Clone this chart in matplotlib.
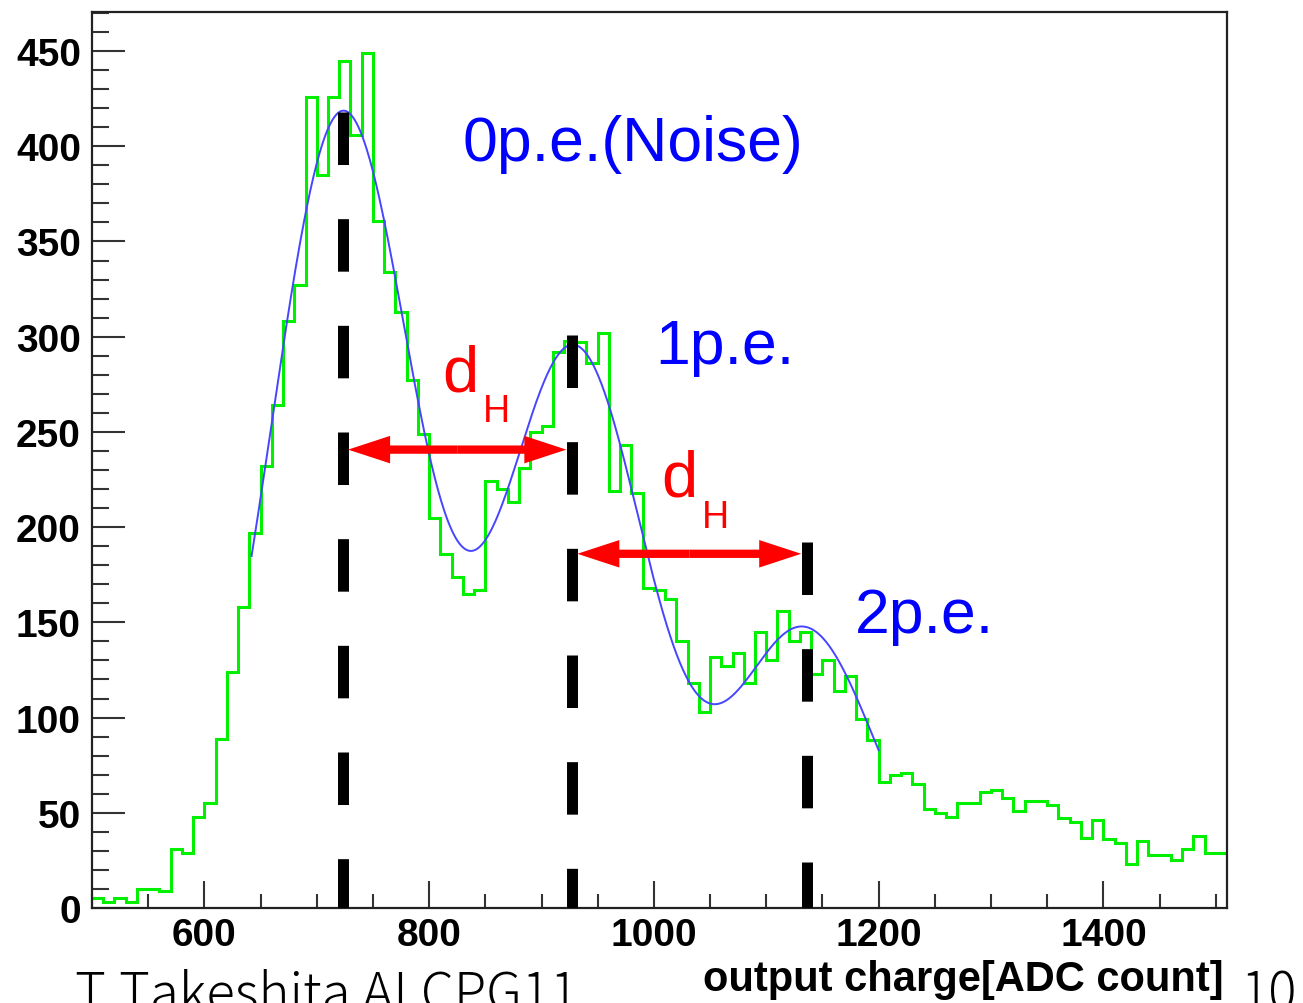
import numpy as np
import matplotlib
matplotlib.use("Agg")
import matplotlib.pyplot as plt
from matplotlib.patches import FancyArrow
from matplotlib.ticker import MultipleLocator

# ADC spectrum: 10-count bins starting at 500
bin_low = 500
bin_width = 10
counts = [5, 3, 5, 3, 10, 10, 9, 31, 29, 48,
          55, 89, 124, 158, 197, 232, 264, 308, 327, 426,
          385, 426, 445, 406, 449, 361, 334, 313, 277, 249,
          205, 186, 174, 165, 167, 224, 220, 213, 231, 250,
          253, 292, 298, 297, 286, 302, 219, 243, 218, 168,
          167, 162, 140, 118, 103, 132, 127, 134, 118, 145,
          130, 156, 140, 145, 123, 130, 114, 122, 99, 88,
          66, 70, 71, 65, 52, 50, 48, 55, 55, 61,
          62, 58, 51, 56, 56, 54, 47, 45, 37, 46,
          36, 34, 23, 35, 28, 28, 25, 31, 38, 29,
          29]

# Triple-Gaussian fit (0, 1, 2 photo-electron peaks)
peak_means = [723, 929, 1134]
peak_sigmas = [63.5, 64, 62]
peak_amps = [417, 293, 146]
fit_range = (642, 1200)

# Peak markers and gain arrows
marker_x = [723, 927, 1136]
marker_top = [418, 301, 192]
arrow_y = [240.7, 186]

peak_labels = ["0p.e.(Noise)", "1p.e.", "2p.e."]
peak_label_pos = [(830, 393), (1001, 286), (1179, 145)]
dh_label_pos = [(812, 272), (1007, 216.5)]

x_ticks = [600, 800, 1000, 1200, 1400]
y_ticks = [0, 50, 100, 150, 200, 250, 300, 350, 400, 450]
x_label = "output charge[ADC count]"

W, H = 1303, 1004
fig = plt.figure(figsize=(W / 100, H / 100), dpi=100)
ax = fig.add_axes([92 / W, 1 - 909 / H, (1227 - 92) / W, (909 - 13) / H])
ax.set_xlim(500, 1510)
ax.set_ylim(0, 470.5)

# data units per pixel on each axis
ux = (1510 - 500) / (1227 - 92)
uy = 470.5 / (909 - 13)

edges = bin_low + bin_width * np.arange(len(counts) + 1)
ax.stairs(counts, edges, color="#00f000", lw=2.2, baseline=None, zorder=2)

xf = np.linspace(fit_range[0], fit_range[1], 600)
yf = np.zeros_like(xf)
for m, s, a in zip(peak_means, peak_sigmas, peak_amps):
    yf += a * np.exp(-0.5 * ((xf - m) / s) ** 2)
ax.plot(xf, yf, color="#4646ff", lw=1.4, zorder=3)

# dashed peak markers
lw_dash = 7.9
for x0, top in zip(marker_x, marker_top):
    ax.plot([x0, x0], [top, 0], color="black", lw=lw_dash,
            linestyle=(0, (37.8 / lw_dash, 39.0 / lw_dash)),
            dash_capstyle="butt", solid_capstyle="butt", zorder=4)

# double-headed arrows between neighbouring peaks
half_line = 5.5 * ux
for i, y0 in enumerate(arrow_y):
    xa = marker_x[i] + half_line
    xb = marker_x[i + 1] - half_line
    xm = 0.5 * (xa + xb)
    for x_end in (xa, xb):
        ax.add_patch(FancyArrow(xm, y0, x_end - xm, 0, width=8.3 * uy,
                                head_width=27.5 * uy, head_length=42 * ux,
                                length_includes_head=True, lw=0,
                                color="#ff0000", zorder=5))

lab_font = dict(family=["Liberation Sans", "DejaVu Sans"])
for txt, (lx, ly) in zip(peak_labels, peak_label_pos):
    ax.text(lx, ly, txt, color="#0000ff", fontsize=45, ha="left",
            va="baseline", zorder=6, **lab_font)
for (lx, ly) in dh_label_pos:
    ax.text(lx, ly, "d", color="#ff0000", fontsize=47, ha="left",
            va="baseline", zorder=6, **lab_font)
    ax.text(lx + 35.5, ly - 16.5, "H", color="#ff0000", fontsize=27,
            ha="left", va="baseline", zorder=6, **lab_font)

ax.set_xticks(x_ticks)
ax.set_yticks(y_ticks)
ax.xaxis.set_minor_locator(MultipleLocator(50))
ax.yaxis.set_minor_locator(MultipleLocator(10))
ax.tick_params(axis="both", which="both", direction="in", top=False,
               right=False, color="#333333", width=1.5)
ax.tick_params(axis="y", which="major", length=23.8, pad=8)
ax.tick_params(axis="y", which="minor", length=12.2)
ax.tick_params(axis="x", which="major", length=19.4, pad=6.5)
ax.tick_params(axis="x", which="minor", length=10)
for lbl in ax.get_xticklabels() + ax.get_yticklabels():
    lbl.set_fontfamily(["Liberation Sans", "DejaVu Sans"])
    lbl.set_fontweight("bold")
    lbl.set_fontsize(28)
for sp in ax.spines.values():
    sp.set_linewidth(1.6)
    sp.set_color("#222222")

fig.text(1224 / W, 1 - 991 / H, x_label, ha="right", va="baseline",
         fontsize=30, fontweight="bold",
         family=["Liberation Sans", "DejaVu Sans"])

foot_font = ["Noto Sans CJK JP", "DejaVu Sans"]
fig.text(75 / W, 1 - 1011 / H, "T.Takeshita ALCPG11", ha="left",
         va="baseline", fontsize=38, fontweight="light", family=foot_font)
fig.text(1240 / W, 1 - 1011 / H, "10", ha="left", va="baseline",
         fontsize=38, fontweight="light", family=foot_font)

fig.savefig("out.png", dpi=100)
